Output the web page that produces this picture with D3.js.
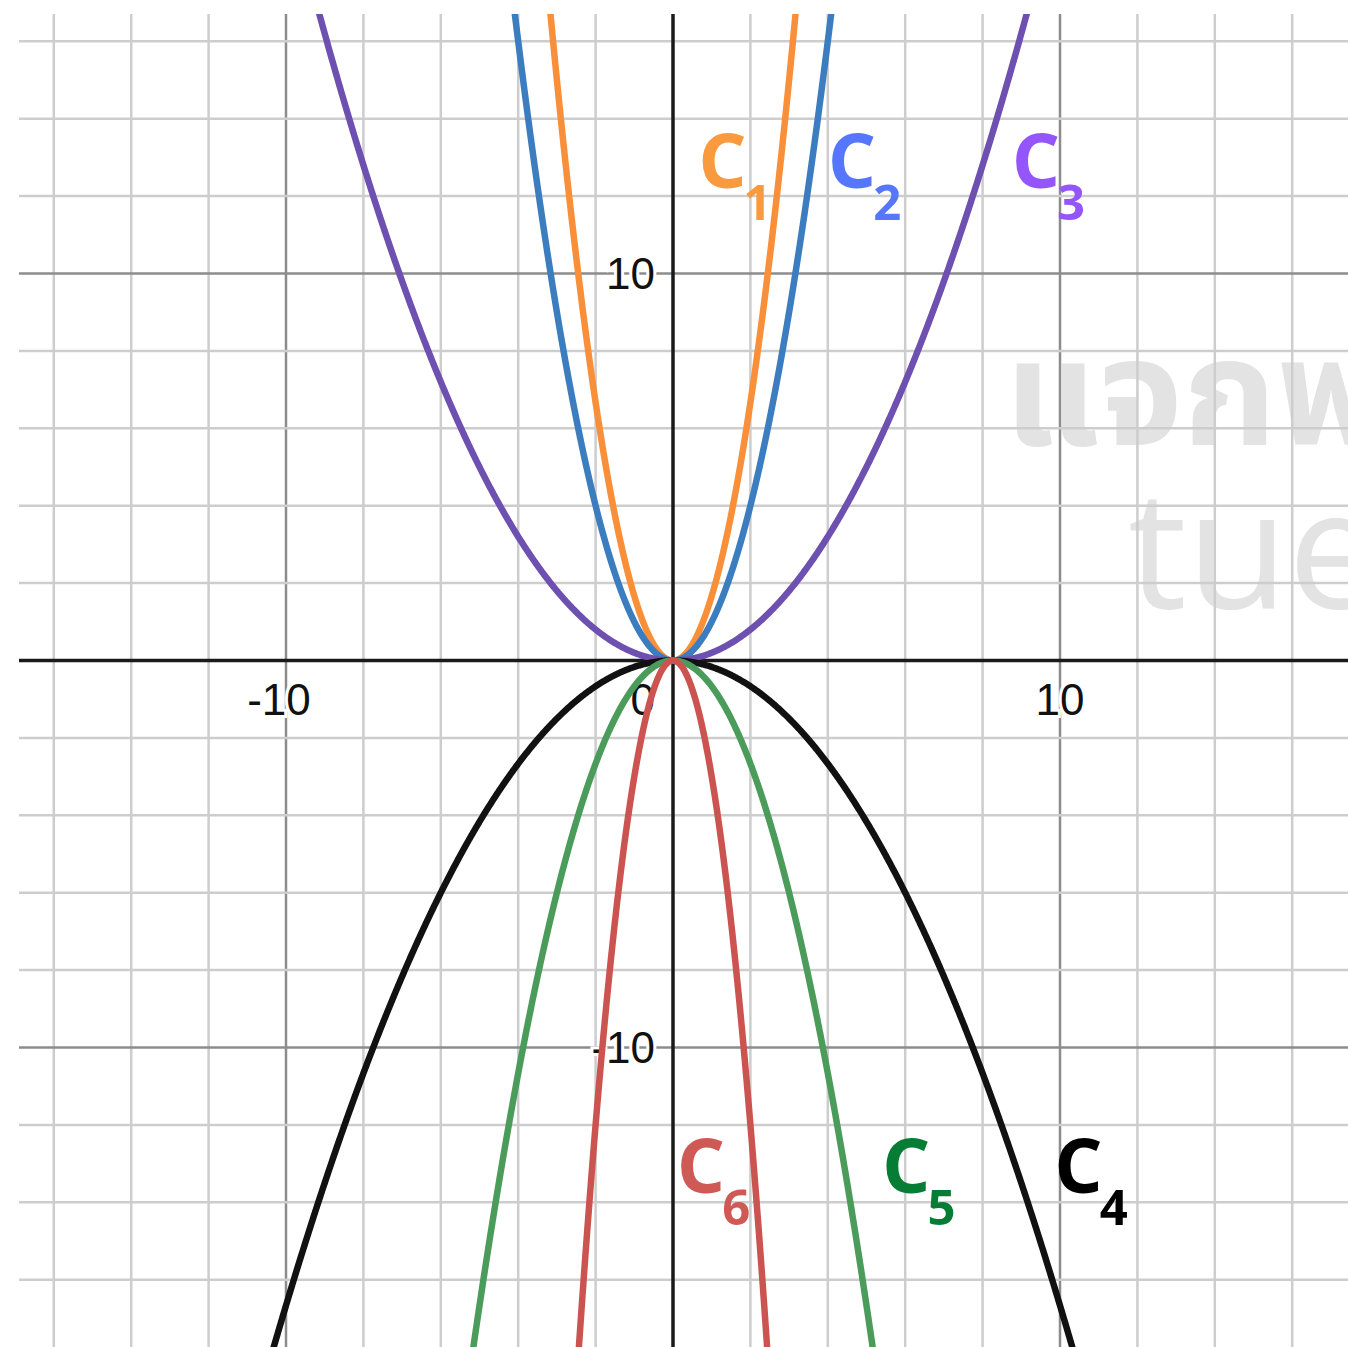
<!DOCTYPE html>
<html lang="en">
  <head>
    <meta charset="utf-8">
    <title>Parabolas C1 - C6</title>
    <script src="https://cdn.jsdelivr.net/npm/d3@7"></script>
    <style>
      body { margin: 0; background: #fff; }
      svg { display: block; }
    </style>
  </head>
  <body>
    <div id="chart"></div>
<script>

// curves y = a * x^2
var curveNames = ["1", "2", "3", "4", "5", "6"];
var curveCoef  = [5/3, 1, 1/5, -1/6, -2/3, -3];
var curveColors = ["#f98f38", "#3b7dbf", "#6e50b1", "#111111", "#4b9c5a", "#cc5450"];
var labelColors = ["#f99a3e", "#5677fc", "#9455fb", "#000000", "#067d35", "#cf5a55"];

// where each label sits, in graph units (x, y of the "C" baseline)
var labelX = [0.65, 4.0, 8.75, 9.85, 5.4, 0.1];
var labelY = [12.2, 12.2, 12.2, -13.75, -13.75, -13.75];

var tickValues = [-10, 10];
var gridStep = 2;

var W = 1348, H = 1347;
var originX = 673, originY = 660.5, unit = 38.7;
var leftX = 19, topY = 14;

var x = d3.scaleLinear()
  .domain([(leftX - originX) / unit, (W - originX) / unit])
  .range([leftX, W]);
var y = d3.scaleLinear()
  .domain([(originY - H) / unit, (originY - topY) / unit])
  .range([H, topY]);

var svg = d3.select("#chart").append("svg")
  .attr("width", W)
  .attr("height", H);

svg.append("rect").attr("width", W).attr("height", H).attr("fill", "#fff");

svg.append("clipPath").attr("id", "plot")
  .append("rect")
  .attr("x", leftX).attr("y", topY)
  .attr("width", W - leftX).attr("height", H - topY);

// watermark
var wm = svg.append("g").attr("clip-path", "url(#plot)").attr("fill", "#e3e3e3");
wm.append("text")
  .attr("x", 1004).attr("y", 445)
  .style("font-family", "'Noto Sans Thai', 'Noto Sans', 'DejaVu Sans', sans-serif")
  .style("font-weight", "bold")
  .style("font-size", "150px")
  .text("แจกฟรี");
wm.append("text")
  .attr("x", 1128).attr("y", 608)
  .style("font-family", "'Open Sans', sans-serif")
  .style("font-size", "165px")
  .text("tue");

// grid
var xs = d3.range(Math.ceil(x.domain()[0] / gridStep) * gridStep, x.domain()[1], gridStep);
var ys = d3.range(Math.ceil(y.domain()[0] / gridStep) * gridStep, y.domain()[1], gridStep);

var grid = svg.append("g");
grid.selectAll(".gx").data(xs.filter(function(d) { return d !== 0; })).enter()
  .append("line")
  .attr("x1", function(d) { return x(d); }).attr("x2", function(d) { return x(d); })
  .attr("y1", topY).attr("y2", H)
  .attr("stroke", function(d) { return d % 10 === 0 ? "#8c8c8c" : "#cdcdcd"; })
  .attr("stroke-width", 2.5);
grid.selectAll(".gy").data(ys.filter(function(d) { return d !== 0; })).enter()
  .append("line")
  .attr("y1", function(d) { return y(d); }).attr("y2", function(d) { return y(d); })
  .attr("x1", leftX).attr("x2", W)
  .attr("stroke", function(d) { return d % 10 === 0 ? "#8c8c8c" : "#cdcdcd"; })
  .attr("stroke-width", 2.5);

// axes
svg.append("line")
  .attr("x1", leftX).attr("x2", W).attr("y1", y(0)).attr("y2", y(0))
  .attr("stroke", "#1a1a1a").attr("stroke-width", 3.5);
svg.append("line")
  .attr("x1", x(0)).attr("x2", x(0)).attr("y1", topY).attr("y2", H)
  .attr("stroke", "#1a1a1a").attr("stroke-width", 3.5);

// tick labels
var tickStyle = function(sel) {
  sel.style("font-family", "'Liberation Sans', Arial, sans-serif")
    .style("font-size", "44px")
    .attr("fill", "#111")
    .attr("stroke", "#fff")
    .attr("stroke-width", 6)
    .attr("paint-order", "stroke");
};
svg.selectAll(".tx").data(tickValues).enter().append("text")
  .attr("x", function(d) { return x(d) - (d < 0 ? 7 : 0); })
  .attr("y", y(0) + 54)
  .attr("text-anchor", "middle")
  .text(function(d) { return d; })
  .call(tickStyle);
svg.append("text")
  .attr("x", x(0) - 18).attr("y", y(0) + 54)
  .attr("text-anchor", "end")
  .text("0")
  .call(tickStyle);
svg.selectAll(".ty").data(tickValues).enter().append("text")
  .attr("x", x(0) - 18)
  .attr("y", function(d) { return y(d) + 15; })
  .attr("text-anchor", "end")
  .text(function(d) { return d; })
  .call(tickStyle);

// curves
var xsamp = d3.range(x.domain()[0], x.domain()[1], 0.02);
var line = d3.line()
  .defined(function(d) { return d[1] > y.domain()[0] - 5 && d[1] < y.domain()[1] + 5; })
  .x(function(d) { return x(d[0]); })
  .y(function(d) { return y(d[1]); });

var curves = svg.append("g").attr("clip-path", "url(#plot)");
curveCoef.forEach(function(a, i) {
  curves.append("path")
    .datum(xsamp.map(function(t) { return [t, a * t * t]; }))
    .attr("d", line)
    .attr("fill", "none")
    .attr("stroke", curveColors[i])
    .attr("stroke-width", 6.5)
    .attr("stroke-linejoin", "round");
});

// labels C with subscripts
var labels = svg.append("g")
  .style("font-family", "'Open Sans', sans-serif")
  .style("font-weight", "bold");
curveNames.forEach(function(n, i) {
  var t = labels.append("text")
    .attr("x", x(labelX[i])).attr("y", y(labelY[i]))
    .attr("fill", labelColors[i]);
  t.append("tspan").style("font-size", "76px").text("C");
  t.append("tspan").style("font-size", "49px").attr("dx", -3).attr("dy", 32).text(n);
});

</script>
  </body>
</html>
